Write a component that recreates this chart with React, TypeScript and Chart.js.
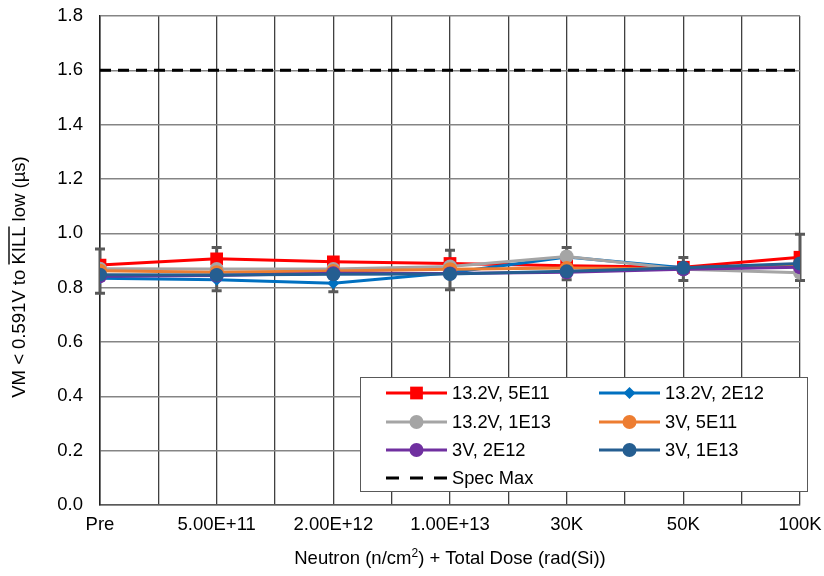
import React, { useEffect, useRef } from "react";
import { Chart, registerables } from "chart.js";

Chart.register(...registerables);

// Dose steps along the x axis
const categories = ["Pre", "5.00E+11", "2.00E+12", "1.00E+13", "30K", "50K", "100K"];

// Measured VM-to-KILL delay (µs) per condition
const s132v5e11 = [0.883, 0.906, 0.895, 0.889, 0.881, 0.875, 0.912];
const s132v2e12 = [0.835, 0.829, 0.816, 0.855, 0.913, 0.873, 0.883];
const s132v1e13 = [0.870, 0.869, 0.869, 0.878, 0.915, 0.868, 0.855];
const s3v5e11 = [0.862, 0.857, 0.861, 0.868, 0.872, 0.870, 0.880];
const s3v2e12 = [0.842, 0.845, 0.853, 0.852, 0.857, 0.868, 0.875];
const s3v1e13 = [0.848, 0.847, 0.849, 0.850, 0.860, 0.873, 0.889];
const specMax = [1.6, 1.6, 1.6, 1.6, 1.6, 1.6, 1.6];

// Spread of the measurements at each dose step
const errHigh = [0.942, 0.948, 0.899, 0.938, 0.948, 0.911, 0.997];
const errLow = [0.779, 0.789, 0.785, 0.792, 0.829, 0.826, 0.826];

const yTicks = [0, 0.2, 0.4, 0.6, 0.8, 1.0, 1.2, 1.4, 1.6, 1.8];

const FONT = '"Liberation Sans", Arial, sans-serif';

type SeriesDef = { label: string; data: number[]; color: string; marker: "rect" | "circle" | "rectRot"; radius: number };

const series: SeriesDef[] = [
  { label: "13.2V, 5E11", data: s132v5e11, color: "#FF0000", marker: "rect", radius: 9 },
  { label: "13.2V, 2E12", data: s132v2e12, color: "#0070C0", marker: "rectRot", radius: 6 },
  { label: "13.2V, 1E13", data: s132v1e13, color: "#A5A5A5", marker: "circle", radius: 7 },
  { label: "3V, 5E11", data: s3v5e11, color: "#ED7D31", marker: "circle", radius: 7 },
  { label: "3V, 2E12", data: s3v2e12, color: "#7030A0", marker: "circle", radius: 7 },
  { label: "3V, 1E13", data: s3v1e13, color: "#255E91", marker: "circle", radius: 7 },
];

function drawMarker(ctx: CanvasRenderingContext2D, kind: string, x: number, y: number, r: number, color: string) {
  ctx.save();
  ctx.fillStyle = color;
  ctx.beginPath();
  if (kind === "rect") {
    const h = r * Math.SQRT1_2;
    ctx.rect(x - h, y - h, 2 * h, 2 * h);
  } else if (kind === "rectRot") {
    ctx.moveTo(x, y - r);
    ctx.lineTo(x + r, y);
    ctx.lineTo(x, y + r);
    ctx.lineTo(x - r, y);
    ctx.closePath();
  } else {
    ctx.arc(x, y, r, 0, Math.PI * 2);
  }
  ctx.fill();
  ctx.restore();
}

const errorBars = {
  id: "errorBars",
  beforeDatasetsDraw(chart: any) {
    const { ctx, scales } = chart;
    const xs = scales.x;
    const ys = scales.y;
    ctx.save();
    ctx.strokeStyle = "#595959";
    ctx.lineWidth = 3;
    categories.forEach((_, i) => {
      const x = xs.getPixelForValue(i);
      const yTop = ys.getPixelForValue(errHigh[i]);
      const yBot = ys.getPixelForValue(errLow[i]);
      ctx.beginPath();
      ctx.moveTo(x, yTop);
      ctx.lineTo(x, yBot);
      ctx.moveTo(x - 5, yTop);
      ctx.lineTo(x + 5, yTop);
      ctx.moveTo(x - 5, yBot);
      ctx.lineTo(x + 5, yBot);
      ctx.stroke();
    });
    ctx.restore();
  },
};

const annotations = {
  id: "annotations",
  afterDraw(chart: any) {
    const { ctx, chartArea } = chart;
    ctx.save();

    // Legend box
    const bx = 360.5, by = 377.5, bw = 447, bh = 114;
    ctx.fillStyle = "#FFFFFF";
    ctx.fillRect(bx, by, bw, bh);
    ctx.strokeStyle = "#595959";
    ctx.lineWidth = 1;
    ctx.strokeRect(bx, by, bw, bh);

    const rows = [393, 422, 450, 478];
    const cols = [386, 599];
    const lineLen = 61;
    ctx.font = `18.3px ${FONT}`;
    ctx.textBaseline = "middle";
    ctx.textAlign = "left";
    series.forEach((s, i) => {
      const x0 = cols[i % 2];
      const y0 = rows[Math.floor(i / 2)];
      ctx.strokeStyle = s.color;
      ctx.lineWidth = 3;
      ctx.setLineDash([]);
      ctx.beginPath();
      ctx.moveTo(x0, y0);
      ctx.lineTo(x0 + lineLen, y0);
      ctx.stroke();
      drawMarker(ctx, s.marker, x0 + lineLen / 2, y0, s.radius, s.color);
      ctx.fillStyle = "#000000";
      ctx.fillText(s.label, x0 + lineLen + 5, y0 + 1);
    });
    // Spec Max entry
    {
      const x0 = cols[0];
      const y0 = rows[3];
      ctx.strokeStyle = "#000000";
      ctx.lineWidth = 3;
      ctx.setLineDash([13, 11]);
      ctx.beginPath();
      ctx.moveTo(x0, y0);
      ctx.lineTo(x0 + lineLen, y0);
      ctx.stroke();
      ctx.setLineDash([]);
      ctx.fillStyle = "#000000";
      ctx.fillText("Spec Max", x0 + lineLen + 5, y0 + 1);
    }

    // X axis title with superscript
    const big = `18.5px ${FONT}`;
    const small = `12px ${FONT}`;
    ctx.font = big;
    ctx.fillStyle = "#000000";
    ctx.textBaseline = "alphabetic";
    const p1 = "Neutron (n/cm";
    const sup = "2";
    const p2 = ") + Total Dose (rad(Si))";
    const w1 = ctx.measureText(p1).width;
    ctx.font = small;
    const ws = ctx.measureText(sup).width;
    ctx.font = big;
    const w2 = ctx.measureText(p2).width;
    const cx = (chartArea.left + chartArea.right) / 2;
    let tx = cx - (w1 + ws + w2) / 2;
    const ty = 564;
    ctx.fillText(p1, tx, ty);
    tx += w1;
    ctx.font = small;
    ctx.fillText(sup, tx, ty - 7);
    tx += ws;
    ctx.font = big;
    ctx.fillText(p2, tx, ty);

    // Y axis title with overlined KILL
    const a = "VM < 0.591V to ";
    const b = "KILL";
    const c = " low (\u00B5s)";
    ctx.font = big;
    const wa = ctx.measureText(a).width;
    const wb = ctx.measureText(b).width;
    const wc = ctx.measureText(c).width;
    const cy = 277;
    ctx.translate(25, cy);
    ctx.rotate(-Math.PI / 2);
    let sx = -(wa + wb + wc) / 2;
    ctx.fillText(a, sx, 0);
    sx += wa;
    ctx.fillText(b, sx, 0);
    ctx.strokeStyle = "#000000";
    ctx.lineWidth = 1.4;
    ctx.beginPath();
    ctx.moveTo(sx, -16);
    ctx.lineTo(sx + wb, -16);
    ctx.stroke();
    sx += wb;
    ctx.fillText(c, sx, 0);

    ctx.restore();
  },
};

export default function App() {
  const canvasRef = useRef<HTMLCanvasElement | null>(null);

  useEffect(() => {
    if (!canvasRef.current) return;
    const n = series.length;
    const datasets: any[] = series.map((s, i) => ({
      label: s.label,
      data: s.data.map((v, k) => ({ x: k, y: v })),
      borderColor: s.color,
      backgroundColor: s.color,
      borderWidth: 3,
      pointStyle: s.marker,
      pointRadius: s.radius,
      pointBorderWidth: 0,
      pointHoverRadius: s.radius,
      tension: 0,
      order: n - i + 1,
    }));
    datasets.push({
      label: "Spec Max",
      data: specMax.map((v, k) => ({ x: k, y: v })),
      borderColor: "#000000",
      backgroundColor: "#000000",
      borderWidth: 3,
      borderDash: [11, 7],
      pointRadius: 0,
      tension: 0,
      order: 0,
    });

    const chart = new Chart(canvasRef.current, {
      type: "line",
      data: { datasets },
      options: {
        animation: false,
        responsive: false,
        events: [],
        layout: { padding: { left: 0, right: 24, top: 16, bottom: 0 } },
        plugins: {
          legend: { display: false },
          tooltip: { enabled: false },
          title: { display: false },
        },
        scales: {
          x: {
            type: "linear",
            min: 0,
            max: categories.length - 1,
            afterBuildTicks: (scale: any) => {
              const t: any[] = [];
              for (let k = 0; k <= (categories.length - 1) * 2; k++) t.push({ value: k / 2 });
              scale.ticks = t;
            },
            afterFit: (scale: any) => {
              scale.height = 71;
              scale.paddingLeft = 0;
              scale.paddingRight = 0;
            },
            grid: {
              color: "#404040",
              lineWidth: 1.3,
              drawTicks: false,
            },
            border: { color: "#595959", width: 1.5 },
            ticks: {
              autoSkip: false,
              maxRotation: 0,
              padding: 9,
              color: "#000000",
              font: { family: FONT, size: 18.5 },
              callback: (v: any) => (Number.isInteger(Number(v)) ? categories[Number(v)] : ""),
            },
          },
          y: {
            min: 0,
            max: 1.8,
            afterBuildTicks: (scale: any) => {
              scale.ticks = yTicks.map((v) => ({ value: v }));
            },
            afterFit: (scale: any) => {
              scale.width = 100;
              scale.paddingTop = 0;
              scale.paddingBottom = 0;
            },
            grid: {
              color: "#858585",
              lineWidth: 1.5,
              drawTicks: false,
            },
            border: { color: "#202020", width: 1.5 },
            ticks: {
              padding: 17,
              color: "#000000",
              font: { family: FONT, size: 18.5 },
              callback: (v: any) => Number(v).toFixed(1),
            },
          },
        },
      },
      plugins: [errorBars, annotations],
    });

    return () => chart.destroy();
  }, []);

  return (
    <div style={{ position: "absolute", left: 0, top: 0, width: 824, height: 576, background: "#FFFFFF" }}>
      <canvas ref={canvasRef} width={824} height={576} style={{ display: "block" }} />
    </div>
  );
}
